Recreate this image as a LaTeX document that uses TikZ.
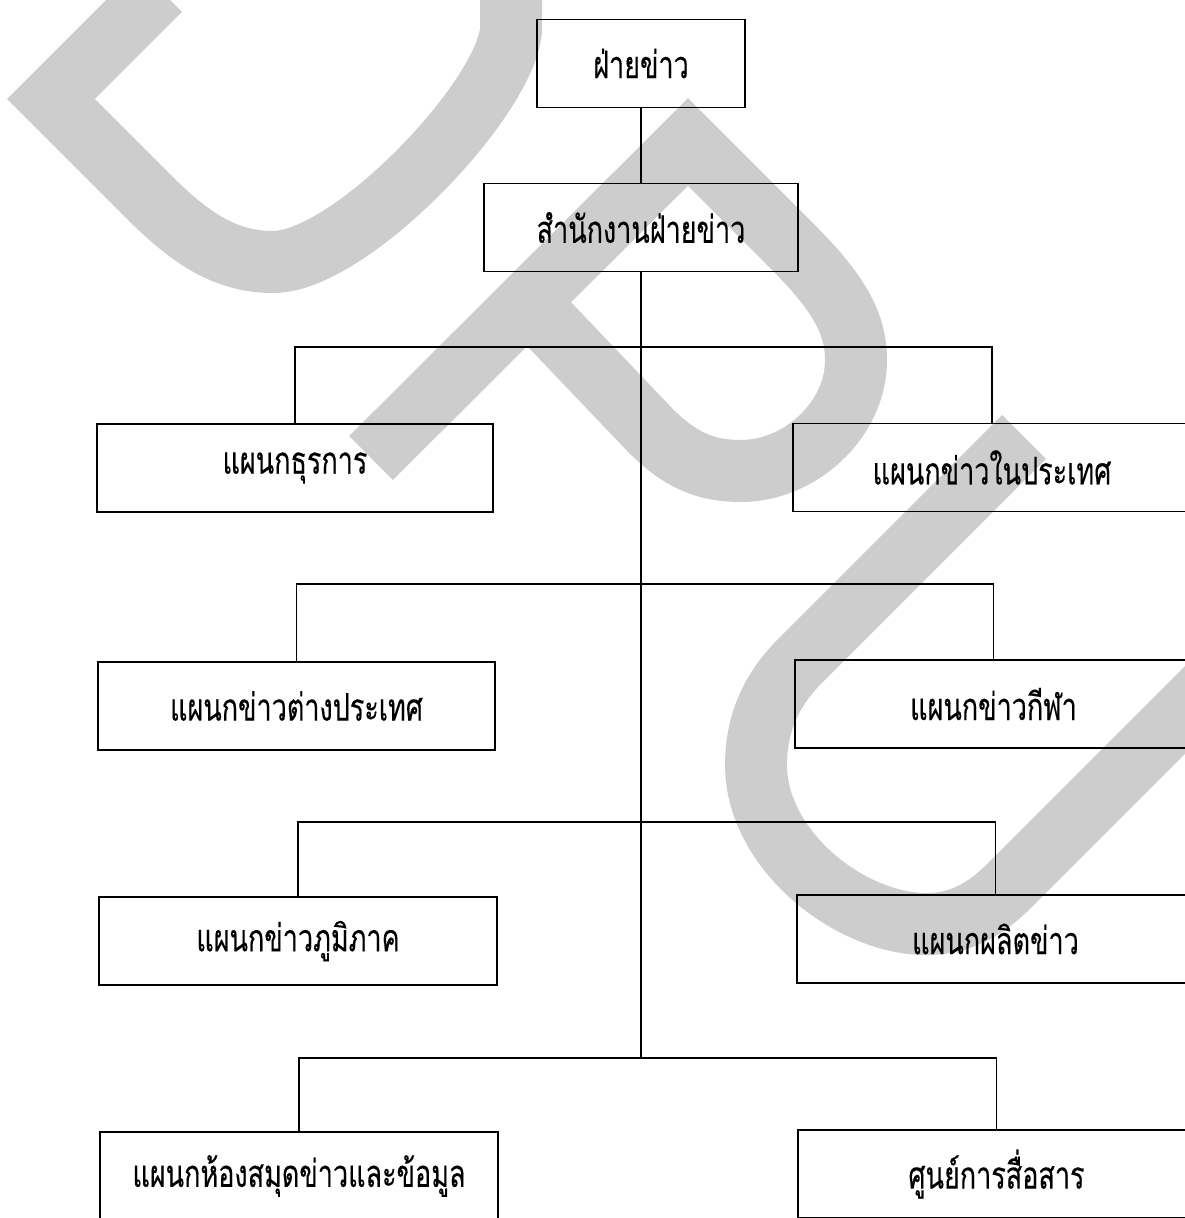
\documentclass[tikz,border=0pt]{standalone}
\usepackage{fontspec}
\newfontfamily\thaifont[Script=Thai,FakeStretch=0.71,FakeBold=0.25]{Loma}
\definecolor{wm}{RGB}{205,205,205}
\begin{document}
\begin{tikzpicture}[x=1pt,y=-1pt,
  box/.style={draw, line width=1.4pt, minimum width=#1, minimum height=88pt, inner sep=0pt,
              font=\thaifont\fontsize{38}{44}\selectfont},
  wire/.style={line width=1.1pt},
  wmstroke/.style={draw=wm, line width=62pt}]
\useasboundingbox (0,0) rectangle (1185,1218);
\clip (0,0) rectangle (1185,1218);
% watermark
\draw[wmstroke] (160,-10) -- (51,99) -- (150,198) .. controls (195,243) and (230,262) .. (273,262)
   .. controls (350,262) and (505,100) .. (511,30) -- (511,-15);
\draw[wmstroke] (371,458) -- (688,142) -- (790,244) .. controls (835,289) and (856,320) .. (856,360)
   .. controls (856,420) and (800,471) .. (741,471) .. controls (705,471) and (680,460) .. (650,430) -- (528,302);
\draw[wmstroke] (1024,437) -- (800,661) .. controls (770,691) and (756,725) .. (756,765)
   .. controls (756,850) and (850,924) .. (926,924) .. controls (960,924) and (985,910) .. (1010,885) -- (1300,595);
% boxes
\node[box=208pt] (top) at (641,63.5) {ฝ่ายข่าว};
\node[box=314pt] (office) at (641,227.5) {สำนักงานฝ่ายข่าว};
\node[box=396pt] (l1) at (295,468) {แผนกธุรการ};
\node[box=398pt] (r1) at (992,467.5) {แผนกข่าวในประเทศ};
\node[box=397pt] (l2) at (296.5,706) {แผนกข่าวต่างประเทศ};
\node[box=397pt] (r2) at (993.5,704) {แผนกข่าวกีฬา};
\node[box=398pt] (l3) at (298,941) {แผนกข่าวภูมิภาค};
\node[box=397pt] (r3) at (995.5,939) {แผนกผลิตข่าว};
\node[box=398pt] (l4) at (299,1176) {แผนกห้องสมุดข่าวและข้อมูล};
\node[box=397pt] (r4) at (996.5,1174) {ศูนย์การสื่อสาร};
% junctions on the trunk
\coordinate (j1) at (641,347);
\coordinate (j2) at (641,584);
\coordinate (j3) at (641,822);
\coordinate (j4) at (641,1058);
% connectors
\draw[wire] (top.south) -- (office.north);
\draw[wire] (office.south) -- (j4);
\draw[wire] (l1.north) |- (j1) -| (r1.north);
\draw[wire] (l2.north) |- (j2) -| (r2.north);
\draw[wire] (l3.north) |- (j3) -| (r3.north);
\draw[wire] (l4.north) |- (j4) -| (r4.north);
\end{tikzpicture}
\end{document}
